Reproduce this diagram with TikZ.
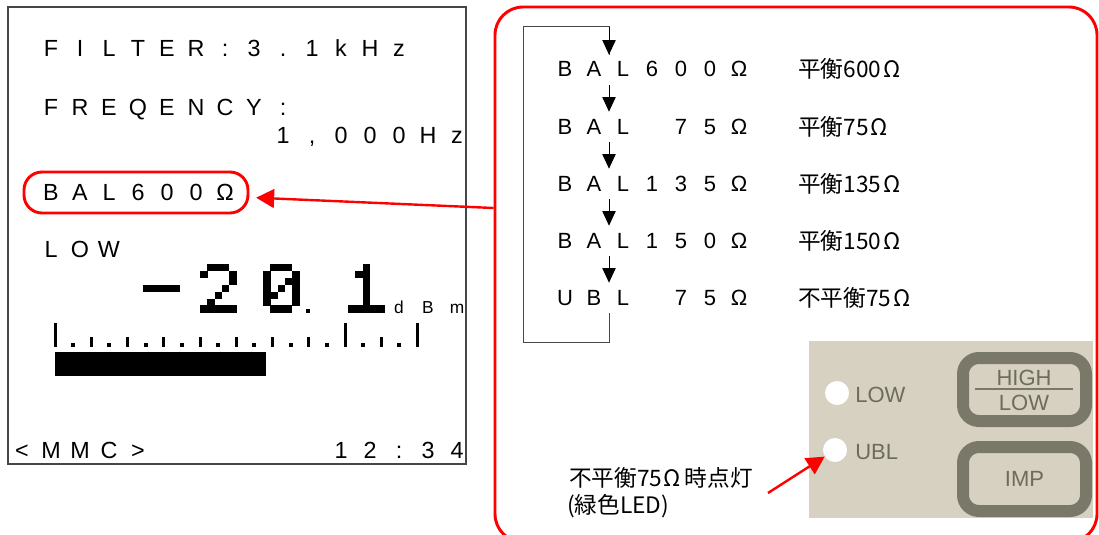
\documentclass[tikz,border=0pt]{standalone}
\usepackage{fontspec}
\setmainfont{Liberation Sans}
\newfontfamily\jpfont{Noto Sans CJK JP}
\usetikzlibrary{arrows.meta,positioning,calc}
\definecolor{panelbg}{RGB}{214,209,192}
\definecolor{btngray}{RGB}{122,120,104}
\definecolor{lbltxt}{RGB}{110,108,92}
\definecolor{frame}{RGB}{70,70,70}

% one 5x7 LCD glyph: x0, list of col/row pixels
\newcommand{\pixdigit}[2]{%
  \foreach \pc/\pr in {#2}
    \fill ({#1+7.3*\pc},{264+6.9*\pr}) rectangle ++(7.5,7.1);}

\begin{document}
\begin{tikzpicture}
        [x=0.75pt,y=-0.75pt]
        \tikzstyle{lcd}=[inner sep=0pt, anchor=base, font=\fontsize{17.5}{19}\selectfont]
        \tikzstyle{lcdsmall}=[inner sep=0pt, anchor=base, font=\fontsize{13}{15}\selectfont]
        \tikzstyle{lst}=[inner sep=0pt, anchor=base, font=\fontsize{16.5}{18}\selectfont]
        \tikzstyle{jplbl}=[inner sep=0pt, anchor=base west, font=\jpfont\fontsize{17}{19}\selectfont]
        \tikzstyle{pnllbl}=[inner sep=0pt, text=lbltxt, font=\fontsize{16.5}{18}\selectfont]
        \tikzstyle{redarrow}=[draw=red, line width=1.8pt, -{Triangle[length=13.5pt,width=14pt]}]
        \tikzstyle{cyclearrow}=[draw=black, line width=0.75pt, -{Triangle[length=11pt,width=10pt]}]
        \tikzstyle{cycleline}=[draw=frame, line width=0.75pt]
        \tikzstyle{rowanchor}=[inner sep=0pt, minimum width=0pt, minimum height=22.5pt]
        \tikzstyle{btn}=[draw=btngray, fill=panelbg, line width=9pt, rounded corners=12pt,
        inner sep=0pt, minimum width=92.25pt, minimum height=47.25pt]
        \tikzstyle{led}=[circle, fill=white, inner sep=0pt, minimum size=18pt]
        \useasboundingbox (0,0) rectangle (1099,535);

        %-----LCD
         \draw[frame, line width=1.1pt] (8,7) rectangle (466,464);
         \foreach \ch [count=\k from 0] in {F,I,L,T,E,R,:,3,.,1,k,H,z}
           \node[lcd] (flt\k) at ({51+29*\k},57) {\ch};
         \foreach \ch [count=\k from 0] in {F,R,E,Q,E,N,C,Y,:}
           \node[lcd] (frq\k) at ({51+29*\k},115) {\ch};
         \foreach \ch [count=\k from 8] in {1,{,},0,0,0,H,z}
           \node[lcd] (hz\k) at ({51+29*\k},143) {\ch};
         \foreach \ch [count=\k from 0] in {B,A,L,6,0,0,Ω}
           \node[lcd] (bal\k) at ({51+29*\k},200) {\ch};
         \foreach \ch [count=\k from 0] in {L,O,W}
           \node[lcd] (low\k) at ({51+29*\k},257) {\ch};
         \foreach \ch [count=\k from 12] in {d,B,m}
           \node[lcdsmall] (dbm\k) at ({51+29*\k},313) {\ch};
         \foreach \ch [count=\k from -1] in {<,M,M,C,>}
           \node[lcd] (mmc\k) at ({51+29*\k},458) {\ch};
         \foreach \ch [count=\k from 10] in {1,2,:,3,4}
           \node[lcd] (clk\k) at ({51+29*\k},458) {\ch};

        %-----big digits
         \pixdigit{143}{0/3,1/3,2/3,3/3,4/3}
         \pixdigit{200}{1/0,2/0,3/0,0/1,4/1,4/2,3/3,2/4,1/5,0/6,1/6,2/6,3/6,4/6}
         \pixdigit{263}{1/0,2/0,3/0,0/1,4/1,0/2,3/2,4/2,0/3,2/3,4/3,0/4,1/4,4/4,0/5,4/5,1/6,2/6,3/6}
         \fill (306,309) rectangle ++(3.5,3.5);
         \pixdigit{348}{2/0,1/1,2/1,2/2,2/3,2/4,2/5,0/6,1/6,2/6,3/6,4/6}

        %-----scale and bar
         \foreach \i in {1,3,...,19}
           \fill ({55+18.13*\i-2},343) rectangle ++(4,4);
         \foreach \i in {2,4,...,14,18}
           \fill ({55+18.13*\i-1.5},337) rectangle ++(3,10);
         \foreach \i in {0,16,20}
           \fill ({55+18.13*\i-1.5},323) rectangle ++(3,24);
         \fill (55,352) rectangle (266,376);

        %-----highlight
         \node[draw=red, line width=2.2pt, rounded corners=13.5pt, inner sep=0pt,
           minimum width=168pt, minimum height=30.75pt] (sel) at (136,192.5) {};
         \node[draw=red, line width=2.2pt, rounded corners=21pt, inner sep=0pt,
           minimum width=451.5pt, minimum height=401.25pt] (setbox) at (796,274.5) {};
         \coordinate (tail) at (setbox.west |- 0,208);
         \draw[redarrow, shorten >=5pt] (tail) -- (sel);

        %-----cycle
         \foreach \ch [count=\j from 0] in {B,A,L,6,0,0,Ω}
           \node[lst] (ra\j) at ({565+29*\j},77) {\ch};
         \foreach \ch [count=\j from 0] in {B,A,L,{},7,5,Ω}
           \node[lst] (rb\j) at ({565+29*\j},134) {\ch};
         \foreach \ch [count=\j from 0] in {B,A,L,1,3,5,Ω}
           \node[lst] (rc\j) at ({565+29*\j},191) {\ch};
         \foreach \ch [count=\j from 0] in {B,A,L,1,5,0,Ω}
           \node[lst] (rd\j) at ({565+29*\j},248) {\ch};
         \foreach \ch [count=\j from 0] in {U,B,L,{},7,5,Ω}
           \node[lst] (re\j) at ({565+29*\j},305) {\ch};
         \foreach \i in {1,...,5}
           \node[rowanchor] (r\i) at (609,{77+57*(\i-1)-7}) {};

         \node[jplbl] (jp1) at (798,78) {平衡600\kern1.5ptΩ};
         \node[jplbl] (jp2) at (798,135) {平衡75\kern1.5ptΩ};
         \node[jplbl] (jp3) at (798,192) {平衡135\kern1.5ptΩ};
         \node[jplbl] (jp4) at (798,249) {平衡150\kern1.5ptΩ};
         \node[jplbl] (jp5) at (798,306) {不平衡75\kern1.5ptΩ};

         \foreach \from/\to in {r1/r2,r2/r3,r3/r4,r4/r5}
         \draw[cyclearrow] (\from.south) -- (\to.north);
         \coordinate (loopbl) at (523,342);
         \coordinate (looptl) at (523,27);
         \draw[cycleline] (r5.south) |- (loopbl) -- (looptl) -| (r1.north);
         \draw[cyclearrow] (r1.north |- looptl) -- (r1.north);

        %-----panel
         \fill[panelbg] (809,341) rectangle (1093,518);
         \node[led] (lowled) at (837,393) {};
         \node[led] (ublled) at (835,450) {};
         \node[pnllbl, anchor=base west] (lowlbl) at (855,402) {LOW};
         \node[pnllbl, anchor=base west] (ubllbl) at (855,459) {UBL};
         \node[btn] (hilo) at (1024.5,389.5) {};
         \node[pnllbl, anchor=base] (high) at (1024,385) {HIGH};
         \node[pnllbl, anchor=base] (lowb) at (1024,410) {LOW};
         \draw[btngray, line width=1.5pt] (975,389) -- (1073,389);
         \node[btn, minimum height=48pt] (imp) at (1024.5,479) {};
         \node[pnllbl] (implbl) at (imp) {IMP};

        %-----note
         \node[jplbl] (note) at (569,486) {不平衡75\kern1ptΩ\kern3pt時点灯};
         \node[jplbl] (noteb) at (567,513) {(緑色LED)};
         \coordinate (ledtail) at (768,493);
         \draw[redarrow] (ledtail) -- (ublled);

\end{tikzpicture}
\end{document}
